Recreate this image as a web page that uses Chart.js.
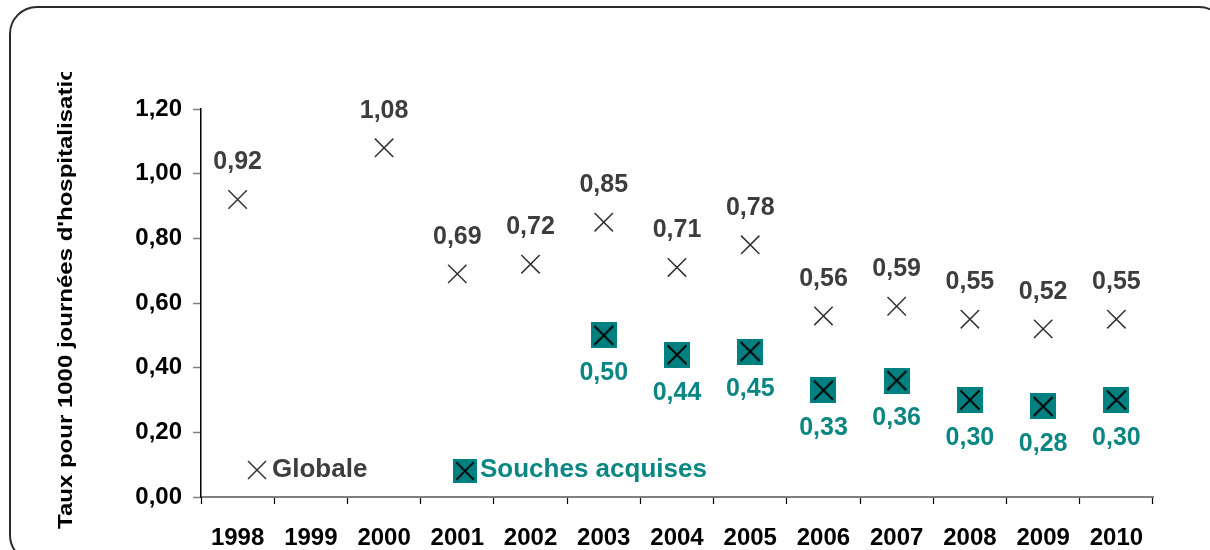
<!DOCTYPE html>
<html lang="fr">
<head>
<meta charset="utf-8">
<title>Taux pour 1000 journées d'hospitalisation</title>
<script src="https://cdn.jsdelivr.net/npm/chart.js@4.4.1/dist/chart.umd.min.js"></script>
<style>
  html, body { margin: 0; padding: 0; background: #ffffff; }
  #wrap { width: 1210px; height: 550px; position: relative; }
</style>
</head>
<body>
<div id="wrap"><canvas id="chart" width="1210" height="550"></canvas></div>
<script>
// Années
const years = ['1998', '1999', '2000', '2001', '2002', '2003', '2004', '2005', '2006', '2007', '2008', '2009', '2010'];

// Taux globaux pour 1000 journées d'hospitalisation
const globale = [0.92, null, 1.08, 0.69, 0.72, 0.85, 0.71, 0.78, 0.56, 0.59, 0.55, 0.52, 0.55];

// Taux des souches acquises
const souchesAcquises = [null, null, null, null, null, 0.50, 0.44, 0.45, 0.33, 0.36, 0.30, 0.28, 0.30];

// Graduations de l'axe vertical
const yTicks = [0, 0.2, 0.4, 0.6, 0.8, 1.0, 1.2];

const seriesNames = ['Globale', 'Souches acquises'];
const yTitle = "Taux pour 1000 journées d'hospitalisation";

const FONT = "'Liberation Sans', Arial, Helvetica, sans-serif";
const GREY_TEXT = '#3d3d3d';
const TEAL = '#008080';
const TEAL_TEXT = '#0b8783';

const fmt = v => v.toFixed(2).replace('.', ',');

// Marker for the "souches acquises" series: teal square with a black cross
function makeSquareCross(size) {
  const c = document.createElement('canvas');
  c.width = size; c.height = size;
  const g = c.getContext('2d');
  g.fillStyle = TEAL;
  g.fillRect(0, 0, size, size);
  g.strokeStyle = '#000000';
  g.lineWidth = 1.8;
  const m = size / 2, d = 9.5;
  g.beginPath();
  g.moveTo(m - d, m - d); g.lineTo(m + d, m + d);
  g.moveTo(m + d, m - d); g.lineTo(m - d, m + d);
  g.stroke();
  return c;
}
const squareCross = makeSquareCross(26);

// Rounded frame around the whole figure
const framePlugin = {
  id: 'frame',
  beforeDraw(chart) {
    const ctx = chart.ctx;
    ctx.save();
    ctx.strokeStyle = '#2b2b2b';
    ctx.lineWidth = 2;
    ctx.beginPath();
    ctx.roundRect(10, 7, 1216, 555, 27);
    ctx.stroke();
    ctx.restore();
  }
};

// Vertical axis title, cut off at the top of the frame area
const yTitlePlugin = {
  id: 'yTitle',
  afterDraw(chart) {
    const ctx = chart.ctx;
    ctx.save();
    ctx.beginPath();
    ctx.rect(0, 72, 200, 478);
    ctx.clip();
    ctx.translate(66, 529);
    ctx.rotate(-Math.PI / 2);
    ctx.scale(1.2, 1);
    ctx.font = 'bold 20px ' + FONT;
    ctx.fillStyle = '#000000';
    ctx.textAlign = 'left';
    ctx.textBaseline = 'middle';
    ctx.fillText(yTitle, 0, 0);
    ctx.restore();
  }
};

// Value labels: above the crosses, below the squares
const valueLabelPlugin = {
  id: 'valueLabels',
  afterDatasetsDraw(chart) {
    const ctx = chart.ctx;
    ctx.save();
    ctx.font = 'bold 25px ' + FONT;
    ctx.textAlign = 'center';
    ctx.textBaseline = 'middle';
    chart.data.datasets.forEach((ds, i) => {
      const meta = chart.getDatasetMeta(i);
      const dy = i === 0 ? -37 : 38;
      ctx.fillStyle = i === 0 ? GREY_TEXT : TEAL_TEXT;
      meta.data.forEach((pt, j) => {
        const v = ds.data[j];
        if (v === null || v === undefined) return;
        ctx.fillText(fmt(v), pt.x, pt.y + dy);
      });
    });
    ctx.restore();
  }
};

// Legend placed inside the plot area, near the bottom
const insideLegendPlugin = {
  id: 'insideLegend',
  afterDraw(chart) {
    const ctx = chart.ctx;
    ctx.save();
    ctx.font = 'bold 26px ' + FONT;
    ctx.textAlign = 'left';
    ctx.textBaseline = 'middle';
    // Globale
    ctx.strokeStyle = '#333333';
    ctx.lineWidth = 1.5;
    ctx.beginPath();
    ctx.moveTo(248, 461); ctx.lineTo(266, 479);
    ctx.moveTo(266, 461); ctx.lineTo(248, 479);
    ctx.stroke();
    ctx.fillStyle = GREY_TEXT;
    ctx.fillText(seriesNames[0], 272, 470);
    // Souches acquises
    ctx.drawImage(squareCross, 453, 459, 24, 24);
    ctx.fillStyle = TEAL_TEXT;
    ctx.fillText(seriesNames[1], 480, 470);
    ctx.restore();
  }
};

new Chart(document.getElementById('chart'), {
  type: 'line',
  data: {
    labels: years,
    datasets: [
      {
        label: seriesNames[0],
        data: globale,
        showLine: false,
        pointStyle: 'crossRot',
        pointRadius: 13,
        pointBorderWidth: 1.5,
        pointBorderColor: '#333333',
        pointBackgroundColor: 'transparent'
      },
      {
        label: seriesNames[1],
        data: souchesAcquises,
        showLine: false,
        pointStyle: squareCross,
        pointRadius: 13
      }
    ]
  },
  options: {
    responsive: false,
    animation: false,
    events: [],
    layout: { padding: { top: 109, right: 57, left: 0, bottom: 0 } },
    plugins: {
      legend: { display: false },
      title: { display: false },
      tooltip: { enabled: false }
    },
    scales: {
      x: {
        type: 'category',
        offset: true,
        grid: {
          offset: true,
          drawOnChartArea: false,
          drawTicks: true,
          tickLength: 7,
          tickColor: '#000000',
          tickWidth: 1.2
        },
        border: { display: true, color: '#7f7f7f', width: 2 },
        ticks: {
          color: '#000000',
          font: { family: FONT, size: 24, weight: 'bold' },
          padding: 20,
          maxRotation: 0,
          autoSkip: false
        },
        afterFit(scale) { scale.height = 53; }
      },
      y: {
        min: 0,
        max: 1.2,
        afterBuildTicks(scale) { scale.ticks = yTicks.map(v => ({ value: v })); },
        grid: {
          drawOnChartArea: false,
          drawTicks: true,
          tickLength: 8,
          tickColor: '#7f7f7f',
          tickWidth: 1.5
        },
        border: { display: true, color: '#000000', width: 1.5 },
        ticks: {
          color: '#000000',
          font: { family: FONT, size: 24, weight: 'bold' },
          padding: 11,
          callback: v => fmt(v)
        },
        afterFit(scale) { scale.width = 201; }
      }
    }
  },
  plugins: [framePlugin, yTitlePlugin, valueLabelPlugin, insideLegendPlugin]
});
</script>
</body>
</html>
